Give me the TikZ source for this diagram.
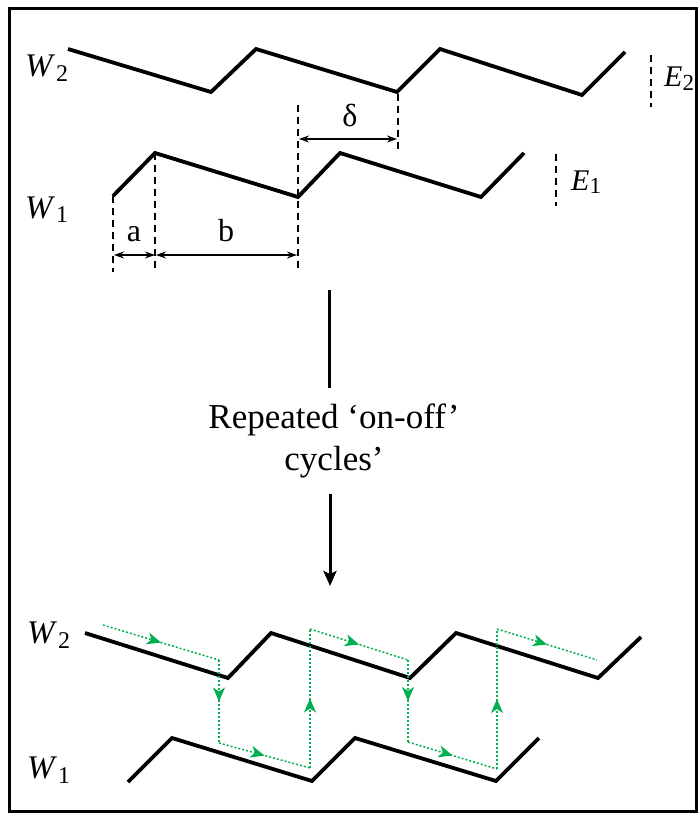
\documentclass[tikz,border=0pt]{standalone}
\usepackage{fontspec}
\setmainfont{Liberation Serif}
\usetikzlibrary{arrows.meta, positioning, decorations.markings}
\definecolor{flowgreen}{RGB}{0,176,80}
\newcommand{\lowsub}[1]{\kern1pt\raisebox{-5pt}{\fontsize{24}{26}\selectfont #1}}

\begin{document}
\begin{tikzpicture}[x=1pt,y=-1pt]
\tikzset{
  wave/.style={line width=3.8pt,line join=miter},
  guide/.style={line width=1.3pt,dash pattern=on 7pt off 5pt},
  dim/.style={{Stealth[length=10pt,width=7pt]}-{Stealth[length=10pt,width=7pt]},line width=1.3pt},
  lbl/.style={inner sep=0pt,anchor=base west,font=\fontsize{33}{36}\selectfont},
  elbl/.style={inner sep=0pt,anchor=base west,font=\fontsize{30}{34}\selectfont},
  dlbl/.style={inner sep=0pt,anchor=base,font=\fontsize{32}{36}\selectfont},
  flow/.style={draw=flowgreen,line width=1.5pt,dash pattern=on 2pt off 2pt,postaction={decorate},
    decoration={markings,mark=at position 0.5 with {\arrow[flowgreen]{Stealth[length=14pt,width=12pt,inset=4pt]}}}}
}
\useasboundingbox (0,0) rectangle (698,813);
\draw[line width=3pt] (9,9) rectangle (696,811);
% before: the two waves
\node[lbl] (w2a) at (25,77) {\textit{W}\lowsub{2}};
\node[lbl] (w1a) at (25,218) {\textit{W}\lowsub{1}};
\draw[wave] (68,49) -- (211,92) -- (256,49) -- (397,92) -- (440,49) -- (582,95) -- (625,52);
\draw[wave] (113,196) -- (155,153) -- (298,197) -- (340,153) -- (481,197) -- (524,153);
\draw[guide] (113,196) -- (113,272);
\draw[guide] (155,153) -- (155,272);
\draw[guide] (298,105) -- (298,272);
\draw[guide] (398,94) -- (398,153);
\draw[guide] (651,55) -- (651,107);
\draw[guide] (556,154) -- (556,206);
\node[elbl] (e2) at (664,87) {\textit{E}\raisebox{-4pt}{\fontsize{23}{26}\selectfont 2}};
\node[elbl] (e1) at (571,190) {\textit{E}\raisebox{-3pt}{\fontsize{23}{26}\selectfont 1}};
% widths
\coordinate (a0) at (114,255); \coordinate (a1) at (155,255);
\coordinate (b0) at (156,255); \coordinate (b1) at (297,255);
\coordinate (d0) at (299,139); \coordinate (d1) at (397,139);
\draw[dim] (a0) -- (a1);
\draw[dim] (b0) -- (b1);
\draw[dim] (d0) -- (d1);
\node[dlbl] (la) at (134,241) {a};
\node[dlbl] (lb) at (226,241) {b};
\node[dlbl] (ld) at (350,127) {δ};
% cycling
\node[font=\fontsize{35}{42}\selectfont,align=center,inner sep=16pt] (cyc) at (334,441) {Repeated ‘on-off’\\cycles’};
\coordinate (ctop) at (329,290);
\coordinate (cbot) at (330,586);
\draw[line width=3pt] (ctop) -- (ctop |- cyc.north);
\draw[line width=3pt,-{Stealth[length=15pt,width=13pt,inset=3pt]}] (cbot |- cyc.south) -- (cbot);
% after: the two waves with the path between them
\node[lbl] (w2b) at (27,643) {\textit{W}\lowsub{2}};
\node[lbl] (w1b) at (27,778) {\textit{W}\lowsub{1}};
\draw[wave] (85,633) -- (228,678) -- (271,633) -- (410,678) -- (456,633) -- (598,678) -- (641,637);
\draw[wave] (128,782) -- (172,738) -- (312,781) -- (355,738) -- (496,781) -- (539,738);
\foreach \x/\y [count=\i from 0] in {103/625,219/660,219/743,310/768,310/629,408/660,408/742,497/769,497/629,597/660}
  \coordinate (g\i) at (\x,\y);
\foreach \i [evaluate=\i as \j using int(\i+1)] in {0,...,8}
  \draw[flow] (g\i) -- (g\j);
\end{tikzpicture}
\end{document}
